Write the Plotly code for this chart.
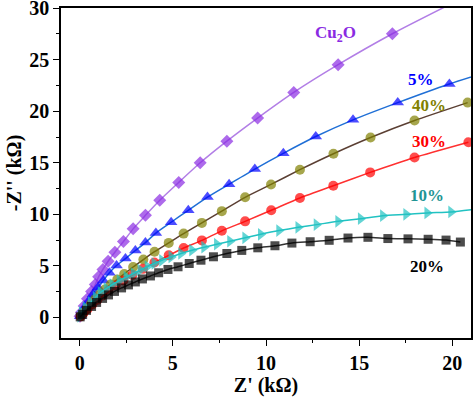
import plotly.graph_objects as go

# ---- data (kΩ) ----
cu2o_x = [0.02, 0.1, 0.24, 0.42, 0.64, 0.84, 1.02, 1.25, 1.53, 1.89, 2.35, 2.87, 3.53, 4.3, 5.32, 6.47, 7.9, 9.55, 11.49, 13.87, 16.78, 19.9]
cu2o_y = [0.1, 0.5, 1.1, 1.8, 2.5, 3.19, 3.94, 4.65, 5.45, 6.32, 7.36, 8.59, 9.9, 11.37, 13.1, 15.0, 17.1, 19.34, 21.83, 24.52, 27.52, 30.4]

p5_x = [0.03, 0.12, 0.28, 0.48, 0.72, 0.98, 1.27, 1.6, 1.98, 2.46, 2.99, 3.53, 4.09, 4.91, 5.83, 6.86, 8.02, 9.4, 10.93, 12.67, 14.67, 17.07, 19.84, 21.3]
p5_y = [0.1, 0.5, 1.0, 1.6, 2.25, 2.9, 3.58, 4.33, 5.03, 5.71, 6.49, 7.26, 8.18, 9.23, 10.39, 11.67, 12.92, 14.39, 15.92, 17.55, 19.17, 20.84, 22.65, 23.5]

p40_x = [0.06, 0.2, 0.38, 0.6, 0.84, 1.09, 1.35, 1.66, 2.02, 2.39, 2.87, 3.42, 4.02, 4.78, 5.58, 6.56, 7.63, 8.88, 10.27, 11.82, 13.62, 15.61, 17.97, 20.82]
p40_y = [0.12, 0.45, 0.85, 1.3, 1.77, 2.23, 2.71, 3.19, 3.68, 4.21, 4.89, 5.61, 6.37, 7.23, 8.13, 9.17, 10.31, 11.65, 12.9, 14.33, 15.88, 17.45, 19.1, 20.84]

p30_x = [0.05, 0.2, 0.42, 0.68, 0.95, 1.23, 1.55, 1.93, 2.35, 2.83, 3.4, 4.01, 4.78, 5.58, 6.56, 7.63, 8.88, 10.28, 11.82, 13.61, 15.59, 17.97, 20.86]
p30_y = [0.1, 0.4, 0.8, 1.25, 1.7, 2.13, 2.61, 3.1, 3.58, 4.11, 4.71, 5.32, 6.02, 6.73, 7.47, 8.4, 9.32, 10.39, 11.59, 12.78, 14.07, 15.52, 17.0]

p10_x = [0.03, 0.11, 0.32, 0.59, 0.86, 1.12, 1.44, 1.76, 2.14, 2.51, 2.89, 3.26, 3.64, 4.01, 4.42, 4.92, 5.44, 6.03, 6.68, 7.36, 8.07, 8.88, 9.72, 10.7, 11.73, 12.71, 13.87, 15.08, 16.27, 17.52, 18.65, 19.93, 21.3]
p10_y = [0.1, 0.48, 0.97, 1.45, 1.94, 2.42, 2.81, 3.19, 3.58, 3.92, 4.26, 4.6, 4.94, 5.23, 5.54, 5.87, 6.2, 6.52, 6.81, 7.1, 7.39, 7.72, 8.06, 8.42, 8.74, 9.0, 9.32, 9.58, 9.87, 10.0, 10.14, 10.23, 10.5]

p20_x = [0.03, 0.16, 0.37, 0.64, 0.91, 1.23, 1.55, 1.87, 2.25, 2.62, 2.99, 3.37, 3.8, 4.24, 4.74, 5.28, 5.88, 6.51, 7.18, 7.9, 8.7, 9.56, 10.48, 11.39, 12.37, 13.39, 14.4, 15.47, 16.54, 17.62, 18.7, 19.66, 20.43]
p20_y = [0.05, 0.29, 0.68, 1.06, 1.45, 1.84, 2.18, 2.52, 2.86, 3.15, 3.44, 3.73, 4.02, 4.33, 4.65, 4.91, 5.23, 5.55, 5.88, 6.2, 6.5, 6.75, 6.95, 7.21, 7.34, 7.48, 7.7, 7.77, 7.65, 7.62, 7.58, 7.5, 7.31]

labels = ["Cu<sub>2</sub>O", "5%", "40%", "30%", "10%", "20%"]
label_x = [13.74, 18.34, 18.77, 18.77, 18.66, 18.66]
label_y = [27.5, 23.1, 20.6, 17.07, 11.8, 4.97]

x_ticks = [0, 5, 10, 15, 20]
y_ticks = [0, 5, 10, 15, 20, 25, 30]

# ---- styles ----
series = [
    (cu2o_x, cu2o_y, "#8a2be2", "#b27ee6", "diamond", 10, True),
    (p5_x, p5_y, "#0000ff", "#1f6fd6", "triangle-up", 11, True),
    (p40_x, p40_y, "#808000", "#5b3f33", "circle", 10, False),
    (p30_x, p30_y, "#ff0000", "#ff3030", "circle", 10, False),
    (p10_x, p10_y, "#21c2c2", "#21c2c2", "triangle-right", 11, True),
    (p20_x, p20_y, "#000000", "#333333", "square", 9, False),
]
label_colors = ["#8a2be2", "#0000ff", "#808000", "#ff0000", "#1e9595", "#000000"]

fig = go.Figure()
for xs, ys, mc, lc, sym, sz, hidden_last in series:
    sizes = [sz] * len(xs)
    if hidden_last:
        sizes[-1] = 0
    fig.add_trace(go.Scatter(
        x=xs, y=ys, mode="lines+markers",
        line=dict(color=lc, width=1.5, shape="spline", smoothing=0.6),
        marker=dict(color=mc, symbol=sym, size=sizes, line=dict(width=0)),
        showlegend=False, cliponaxis=True,
    ))

for t, lx, ly, c in zip(labels, label_x, label_y, label_colors):
    fig.add_annotation(x=lx, y=ly, text="<b>%s</b>" % t, showarrow=False,
                       font=dict(family="Liberation Serif", size=17, color=c),
                       xanchor="center", yanchor="middle")

axis_common = dict(
    showgrid=False, zeroline=False, showline=True, linecolor="black", linewidth=1.5,
    mirror=True, ticks="outside", ticklen=6, tickwidth=1.3, tickcolor="black",
    tickfont=dict(family="Liberation Serif", size=20, color="black"),
    minor=dict(ticks="outside", ticklen=3, tickwidth=1.2, tickcolor="black", dtick=2.5),
    automargin=False, ticklabeloverflow="allow",
)

fig.update_xaxes(range=[-1, 21], tickvals=x_ticks, ticktext=["<b>%d</b>" % v for v in x_ticks],
                 title=dict(text="<b>Z' (kΩ)</b>", font=dict(family="Liberation Serif", size=20, color="black"), standoff=2),
                 **axis_common)
fig.update_yaxes(range=[-2, 30.02], tickvals=y_ticks, ticktext=["<b>%d</b>" % v for v in y_ticks],
                 title=dict(text="<b>-Z'' (kΩ)</b>", font=dict(family="Liberation Serif", size=20, color="black"), standoff=2),
                 **axis_common)

fig.update_layout(
    width=474, height=397,
    margin=dict(l=61, r=3, t=8, b=59, autoexpand=False),
    plot_bgcolor="white", paper_bgcolor="white",
    font=dict(family="Liberation Serif", size=16, color="black"),
)

# remove the browser's default 8px body margin so the figure fills the window
fig.write_html("out.html", config={"displayModeBar": False},
               post_script="document.body.style.margin='0';")
